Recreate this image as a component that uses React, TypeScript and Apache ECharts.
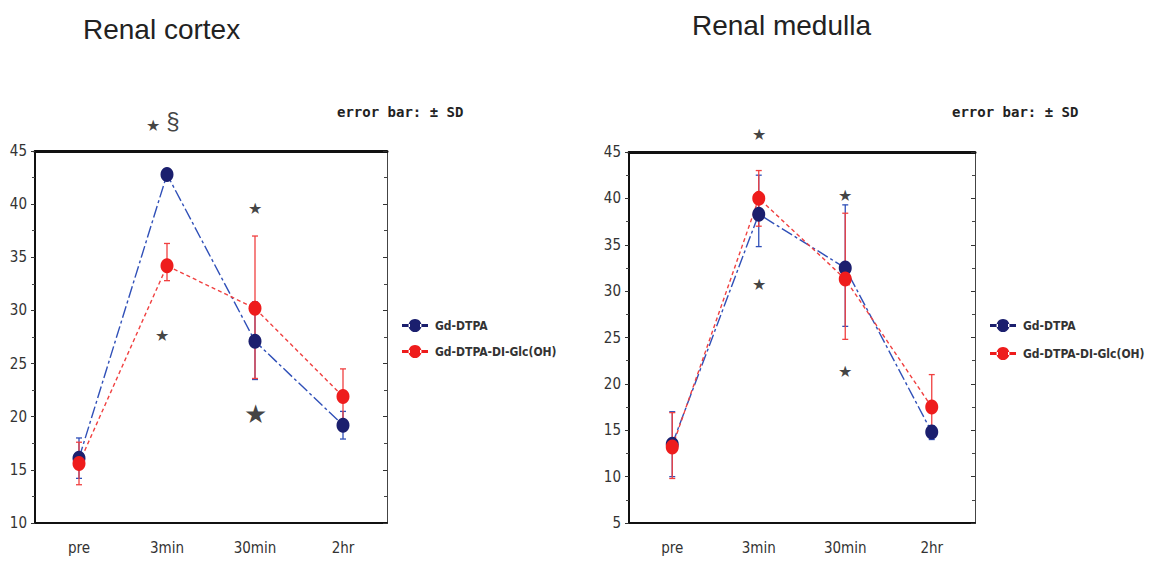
import React, { useEffect, useRef } from "react";
import * as echarts from "echarts";

const categories = ["pre", "3min", "30min", "2hr"];
const seriesNames = ["Gd-DTPA", "Gd-DTPA-DI-Glc(OH)"];

// Renal cortex
const cortexBlue = [16.1, 42.8, 27.1, 19.2];
const cortexBlueLo = [14.2, 42.4, 23.5, 17.9];
const cortexBlueHi = [18.0, 43.2, 30.8, 20.5];
const cortexRed = [15.6, 34.2, 30.2, 21.9];
const cortexRedLo = [13.6, 32.8, 23.6, 19.4];
const cortexRedHi = [17.6, 36.3, 37.0, 24.5];

// Renal medulla
const medullaBlue = [13.5, 38.3, 32.5, 14.8];
const medullaBlueLo = [10.0, 34.8, 26.2, 14.0];
const medullaBlueHi = [17.0, 42.5, 39.3, 15.5];
const medullaRed = [13.2, 40.0, 31.3, 17.5];
const medullaRedLo = [9.8, 37.0, 24.8, 15.0];
const medullaRedHi = [16.9, 43.0, 38.4, 21.0];

// significance marks: [categoryIndex, yValue, text, size, xOffset]
const cortexMarks: [number, number, string, number, number][] = [
  [1, 47.4, "★", 16, -14],
  [1, 47.9, "§", 24, 6],
  [1, 27.6, "★", 16, -5],
  [2, 39.6, "★", 16, 0],
  [2, 20.3, "★", 26, 0],
];
const medullaMarks: [number, number, string, number, number][] = [
  [1, 46.9, "★", 16, 0],
  [1, 30.7, "★", 16, 0],
  [2, 40.3, "★", 16, 0],
  [2, 21.3, "★", 16, 0],
];

const BLUE = "#1b1f6e";
const BLUE_LINE = "#3050b8";
const RED = "#ee1c1c";
const RED_LINE = "#f04040";
const NARROW = '"Liberation Sans Narrow", "DejaVu Sans Condensed", "Roboto Condensed", sans-serif';

function errorSeries(gi: number, lo: number[], hi: number[], color: string) {
  return {
    type: "custom",
    xAxisIndex: gi * 2,
    yAxisIndex: gi * 2,
    z: 1,
    silent: true,
    data: lo.map((l, i) => [i, l, hi[i]]),
    renderItem: (params: any, api: any) => {
      const x = api.value(0);
      const a = api.coord([x, api.value(1)]);
      const b = api.coord([x, api.value(2)]);
      const st = { stroke: color, lineWidth: 1.3 };
      return {
        type: "group",
        children: [
          { type: "line", shape: { x1: a[0], y1: a[1], x2: b[0], y2: b[1] }, style: st },
          { type: "line", shape: { x1: a[0] - 3, y1: a[1], x2: a[0] + 3, y2: a[1] }, style: st },
          { type: "line", shape: { x1: b[0] - 3, y1: b[1], x2: b[0] + 3, y2: b[1] }, style: st },
        ],
      };
    },
  };
}

function lineSeries(gi: number, name: string, data: number[], color: string, lineColor: string, dash: number[]) {
  return {
    type: "line",
    name,
    xAxisIndex: gi * 2,
    yAxisIndex: gi * 2,
    data,
    z: 3,
    symbol: "circle",
    symbolSize: [13, 15],
    itemStyle: { color },
    lineStyle: { color: lineColor, width: 1.4, type: dash },
  };
}

function markSeries(gi: number, marks: [number, number, string, number, number][]) {
  return {
    type: "scatter",
    xAxisIndex: gi * 2,
    yAxisIndex: gi * 2,
    clip: false,
    silent: true,
    symbolSize: 0,
    z: 5,
    data: marks.map((m) => ({
      value: [m[0], m[1]],
      label: {
        show: true,
        position: "inside",
        formatter: m[2],
        fontSize: m[3],
        color: "#111",
        offset: [m[4], 0],
      },
    })),
  };
}

function axesFor(gi: number, min: number) {
  const xa = [
    {
      type: "category",
      gridIndex: gi,
      data: categories,
      position: "bottom",
      axisLine: { lineStyle: { color: "#111", width: 2 } },
      axisTick: { alignWithLabel: true, length: 4, inside: false, lineStyle: { color: "#333" } },
      axisLabel: { fontFamily: NARROW, fontSize: 15, color: "#333", margin: 17 },
    },
    {
      type: "category",
      gridIndex: gi,
      data: categories,
      position: "top",
      axisLine: { lineStyle: { color: "#111", width: 3 } },
      axisTick: { alignWithLabel: true, length: 3, inside: true, lineStyle: { color: "#555" } },
      axisLabel: { show: false },
    },
  ];
  const ya = [
    {
      type: "value",
      gridIndex: gi,
      min,
      max: 45,
      interval: 5,
      position: "left",
      splitLine: { show: false },
      axisLine: { show: true, lineStyle: { color: "#111", width: 2 } },
      axisTick: { show: true, length: 4, lineStyle: { color: "#333" } },
      minorTick: { show: true, splitNumber: 2, length: 3, lineStyle: { color: "#444" } },
      axisLabel: { fontFamily: NARROW, fontSize: 15, color: "#333", margin: 8 },
    },
    {
      type: "value",
      gridIndex: gi,
      min,
      max: 45,
      interval: 5,
      position: "right",
      splitLine: { show: false },
      axisLine: { show: true, lineStyle: { color: "#444", width: 1 } },
      axisTick: { show: true, length: 4, inside: true, lineStyle: { color: "#333" } },
      minorTick: { show: true, splitNumber: 2, length: 3, lineStyle: { color: "#444" } },
      axisLabel: { show: false },
    },
  ];
  return { xa, ya };
}

const legendIcon = "path://M0,6h8v3H0z M18,6h8v3h-8z M13,1a6.5,6.5 0 1,0 0.01,0z";

export default function App() {
  const ref = useRef<HTMLDivElement>(null);
  useEffect(() => {
    if (!ref.current) return;
    const chart = echarts.init(ref.current, undefined, { renderer: "svg" });
    const a0 = axesFor(0, 10);
    const a1 = axesFor(1, 5);
    const legendText = { fontFamily: NARROW, fontSize: 12, fontWeight: "bold", color: "#333", padding: [0, 0, 0, 2] };
    chart.setOption({
      animation: false,
      backgroundColor: "#fff",
      title: [
        { text: "Renal cortex", left: 78, top: 10, textStyle: { fontFamily: "Liberation Sans", fontSize: 28, fontWeight: "normal", color: "#222" } },
        { text: "Renal medulla", left: 687, top: 6, textStyle: { fontFamily: "Liberation Sans", fontSize: 28, fontWeight: "normal", color: "#222" } },
        { text: "error bar: ± SD", left: 332, top: 100, textStyle: { fontFamily: "DejaVu Sans Mono", fontSize: 14, fontWeight: "bold", color: "#222" } },
        { text: "error bar: ± SD", left: 947, top: 100, textStyle: { fontFamily: "DejaVu Sans Mono", fontSize: 14, fontWeight: "bold", color: "#222" } },
      ],
      legend: [
        {
          left: 397, top: 314, orient: "vertical", itemGap: 13, itemWidth: 26, itemHeight: 15,
          icon: legendIcon, textStyle: legendText, data: seriesNames, selectedMode: false,
        },
        {
          left: 985, top: 314, orient: "vertical", itemGap: 15, itemWidth: 26, itemHeight: 15,
          icon: legendIcon, textStyle: legendText, data: seriesNames, selectedMode: false,
        },
      ],
      grid: [
        { left: 35, top: 151, width: 352, height: 372 },
        { left: 629, top: 152, width: 346, height: 371 },
      ],
      xAxis: [...a0.xa, ...a1.xa],
      yAxis: [...a0.ya, ...a1.ya],
      series: [
        errorSeries(0, cortexBlueLo, cortexBlueHi, BLUE_LINE),
        errorSeries(0, cortexRedLo, cortexRedHi, RED_LINE),
        lineSeries(0, seriesNames[0], cortexBlue, BLUE, BLUE_LINE, [12, 3, 3, 3]),
        lineSeries(0, seriesNames[1], cortexRed, RED, RED_LINE, [4, 3]),
        markSeries(0, cortexMarks),
        errorSeries(1, medullaBlueLo, medullaBlueHi, BLUE_LINE),
        errorSeries(1, medullaRedLo, medullaRedHi, RED_LINE),
        lineSeries(1, seriesNames[0], medullaBlue, BLUE, BLUE_LINE, [12, 3, 3, 3]),
        lineSeries(1, seriesNames[1], medullaRed, RED, RED_LINE, [4, 3]),
        markSeries(1, medullaMarks),
      ],
    });
    return () => chart.dispose();
  }, []);
  return (
    <div
      ref={ref}
      style={{ position: "fixed", left: 0, top: 0, width: 1160, height: 563, background: "#fff" }}
    />
  );
}
